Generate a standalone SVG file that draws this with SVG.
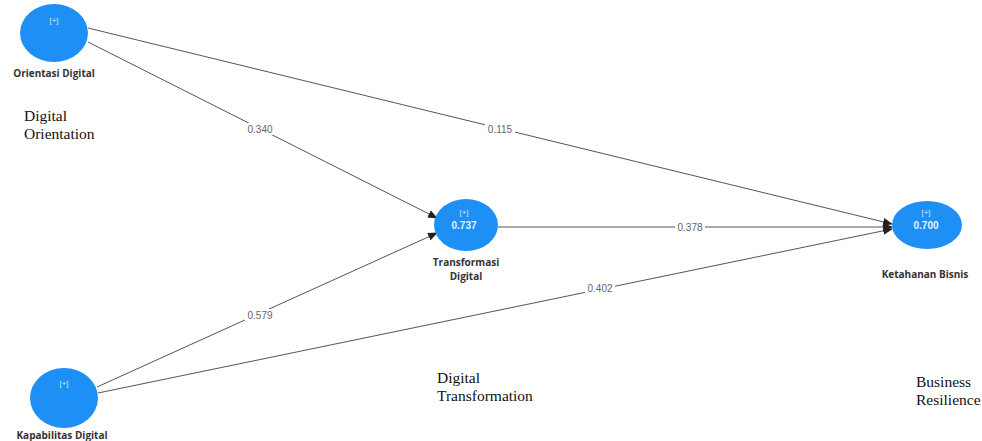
<svg xmlns="http://www.w3.org/2000/svg" width="982" height="441" viewBox="0 0 982 441">
<defs>
<marker id="arr" markerWidth="10" markerHeight="8" refX="9" refY="4" orient="auto" markerUnits="userSpaceOnUse">
<path d="M0,0 L10,4 L0,8 Z" fill="#222"/>
</marker>
<style>
.n{fill:#1e90f5;}
.plus{font-family:"Liberation Sans",Arial,sans-serif;font-size:8px;fill:#cfe6ff;text-anchor:middle;}
.val{font-family:"Liberation Sans",Arial,sans-serif;font-size:10px;font-weight:bold;fill:#e6f2ff;text-anchor:middle;}
.lab{font-family:"Open Sans","Liberation Sans",Arial,sans-serif;font-size:10px;font-weight:bold;fill:#333;text-anchor:middle;}
.e{stroke:#555;stroke-width:1;fill:none;marker-end:url(#arr);}
.w{font-family:"Liberation Sans",Arial,sans-serif;font-size:10px;fill:#666;text-anchor:middle;}
.bg{fill:#fff;}
.cap{font-family:"Liberation Serif","Times New Roman",serif;font-size:15.5px;fill:#111;}
</style>
</defs>
<g id="connectors">
<line class="e" x1="88" y1="42" x2="437" y2="218"/>
<line class="e" x1="88" y1="28" x2="892" y2="224"/>
<line class="e" x1="498" y1="227" x2="892" y2="227"/>
<line class="e" x1="97" y1="387" x2="437" y2="233"/>
<line class="e" x1="98" y1="393" x2="892" y2="229"/>
<rect class="bg" x="245" y="123" width="30" height="12"/>
<text class="w" x="260" y="133">0.340</text>
<rect class="bg" x="485" y="123" width="30" height="12"/>
<text class="w" x="500" y="133">0.115</text>
<rect class="bg" x="675" y="221" width="30" height="12"/>
<text class="w" x="690" y="231">0.378</text>
<rect class="bg" x="245" y="309" width="30" height="12"/>
<text class="w" x="260" y="319">0.579</text>
<rect class="bg" x="585" y="282" width="30" height="12"/>
<text class="w" x="600" y="292">0.402</text>
</g>
<g id="orientasi">
<ellipse class="n" cx="54" cy="33" rx="34" ry="29"/>
<text class="plus" x="54" y="23">[+]</text>
<text class="lab" x="54" y="77">Orientasi Digital</text>
</g>
<g id="transformasi">
<ellipse class="n" cx="466" cy="225" rx="32" ry="26"/>
<text class="plus" x="464" y="215">[+]</text>
<text class="val" x="464" y="229">0.737</text>
<text class="lab" x="466" y="266">Transformasi</text>
<text class="lab" x="466" y="280">Digital</text>
</g>
<g id="ketahanan">
<ellipse class="n" cx="927" cy="225" rx="35" ry="24"/>
<text class="plus" x="926" y="215">[+]</text>
<text class="val" x="926" y="229">0.700</text>
<text class="lab" x="925" y="278">Ketahanan Bisnis</text>
</g>
<g id="kapabilitas">
<ellipse class="n" cx="64" cy="398" rx="34" ry="30"/>
<text class="plus" x="64" y="386">[+]</text>
<text class="lab" x="62" y="439">Kapabilitas Digital</text>
</g>
<g id="captions">
<text class="cap" x="24" y="121">Digital</text>
<text class="cap" x="24" y="139">Orientation</text>
<text class="cap" x="437" y="383">Digital</text>
<text class="cap" x="437" y="401">Transformation</text>
<text class="cap" x="916" y="387">Business</text>
<text class="cap" x="916" y="405">Resilience</text>
</g>
</svg>
